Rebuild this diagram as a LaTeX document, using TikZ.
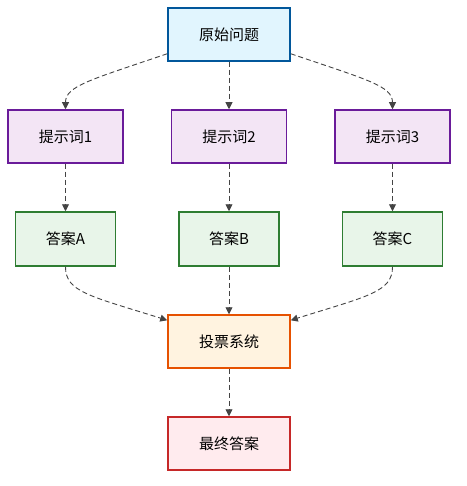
\documentclass[tikz,border=0pt]{standalone}
\usepackage{fontspec}
\setmainfont{Noto Sans CJK SC}
\usetikzlibrary{arrows.meta}
\definecolor{qfill}{HTML}{E1F5FE}\definecolor{qline}{HTML}{01579B}
\definecolor{pfill}{HTML}{F3E5F5}\definecolor{pline}{HTML}{6A1B9A}
\definecolor{afill}{HTML}{E8F5E9}\definecolor{aline}{HTML}{2E7D32}
\definecolor{vfill}{HTML}{FFF3E0}\definecolor{vline}{HTML}{E65100}
\definecolor{ffill}{HTML}{FFEBEE}\definecolor{fline}{HTML}{C62828}
\definecolor{edge}{HTML}{444444}

\begin{document}
\begin{tikzpicture}[x=1pt,y=-1pt,
 box/.style={draw,line width=1.5pt,minimum height=53pt,inner sep=0pt,font=\fontsize{15}{18}\selectfont},
 question/.style={box,fill=qfill,draw=qline,minimum width=122pt},
 prompt/.style={box,fill=pfill,draw=pline,minimum width=115pt},
 answer/.style={box,fill=afill,draw=aline,minimum width=100pt,minimum height=54pt},
 vote/.style={box,fill=vfill,draw=vline,minimum width=122pt},
 final/.style={box,fill=ffill,draw=fline,minimum width=122pt},
 flow/.style={draw=edge,line width=0.9pt,dash pattern=on 5pt off 3pt,-{Triangle[length=7pt,width=7pt]}}]
\useasboundingbox (0,0) rectangle (466,486);
\node[question] (q) at (229,34.5) {原始问题};
\node[vote] (v) at (229,341.5) {投票系统};
\node[final] (f) at (229,443.5) {最终答案};
\foreach \i/\x/\l in {1/65.5/A, 2/229/B, 3/392.5/C} {
 \node[prompt] (p\i) at (\x,136.5) {提示词\i};
 \node[answer] (a\i) at (\x,239) {答案\l};
 \draw[flow] (p\i) -- (a\i);
 }
\draw[flow] ([yshift=8pt]q.south west) .. controls (90,80) and (65.5,86) .. (p1.north);
\draw[flow] (q) -- (p2);
\draw[flow] ([yshift=8pt]q.south east) .. controls (368,80) and (392.5,86) .. (p3.north);
\draw[flow] (a1.south) .. controls (65.5,292) and (90,296) .. ([yshift=-6pt]v.north west);
\draw[flow] (a2) -- (v);
\draw[flow] (a3.south) .. controls (392.5,292) and (368,296) .. ([yshift=-6pt]v.north east);
\draw[flow] (v) -- (f);
\end{tikzpicture}
\end{document}
